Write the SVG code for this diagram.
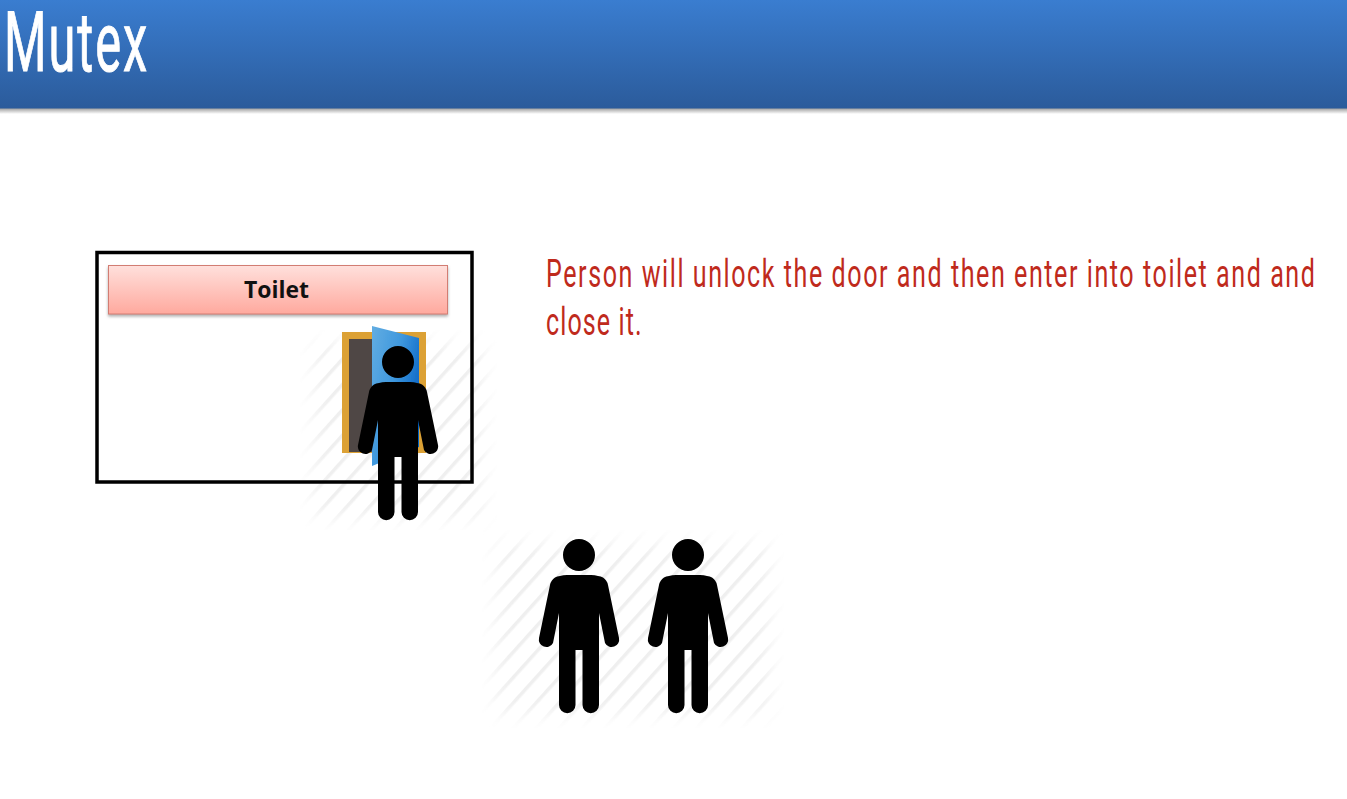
<svg xmlns="http://www.w3.org/2000/svg" width="1347" height="799" viewBox="0 0 1347 799">
<style>
.title{font-family:"Roboto","Liberation Sans",sans-serif;font-weight:400;font-size:84px;fill:#fff;stroke:#fff;stroke-width:1}
.body{font-family:"Roboto","Liberation Sans",sans-serif;font-weight:400;font-size:38px;fill:#bf2a1c}
.label{font-family:"Open Sans","Liberation Sans",sans-serif;font-weight:700;font-size:23px;fill:#111;text-anchor:middle}
.soft{filter:url(#soft)}
</style>
<defs>
<linearGradient id="hdr" x1="0" y1="0" x2="0" y2="1"><stop offset="0" stop-color="#3a7dd0"/><stop offset="1" stop-color="#2b5b9b"/></linearGradient>
<linearGradient id="shade" x1="0" y1="0" x2="0" y2="1"><stop offset="0" stop-color="#9a9a9a"/><stop offset="1" stop-color="#fff"/></linearGradient>
<linearGradient id="bar" x1="0" y1="0" x2="0" y2="1"><stop offset="0" stop-color="#ffe0dc"/><stop offset="1" stop-color="#ffa99e"/></linearGradient>
<linearGradient id="leaf" x1="0" y1="0" x2="1" y2="0.600"><stop offset="0" stop-color="#62ade2"/><stop offset="0.500" stop-color="#3f98de"/><stop offset="1" stop-color="#0662c4"/></linearGradient>
<pattern id="hatch" width="17" height="17" patternUnits="userSpaceOnUse" patternTransform="rotate(-48)"><rect width="17" height="3.500" fill="#efefef"/></pattern>
<filter id="soft" x="-5%" y="-5%" width="110%" height="110%"><feGaussianBlur stdDeviation="0.600"/></filter>
<filter id="fade" x="-10%" y="-10%" width="120%" height="120%"><feGaussianBlur stdDeviation="9"/></filter>
<filter id="drop" x="-5%" y="-20%" width="110%" height="140%"><feDropShadow dx="0" dy="2" stdDeviation="1.500" flood-color="#777" flood-opacity="0.600"/></filter>
<mask id="hatchfade" maskUnits="userSpaceOnUse" x="0" y="0" width="1347" height="799">
<rect x="314" y="344" width="169" height="174" fill="#fff" filter="url(#fade)"/>
<rect x="496" y="544" width="274" height="170" fill="#fff" filter="url(#fade)"/>
</mask>
<path id="person" d="M-24,22.500 Q-20,20.500 -12,20 L12,20 Q20,20.500 24,22.500 Q28,25 29,30 L40,83 A7.500,7.500 0 0 1 26,88 L20,58 L20,150 A8.250,8.250 0 0 1 3.500,150 L3.500,95 L-3.500,95 L-3.500,150 A8.250,8.250 0 0 1 -20,150 L-20,58 L-26,88 A7.500,7.500 0 0 1 -40,83 L-29,30 Q-28,25 -24,22.500 Z M16,0 A16,16 0 1 1 -16,0 A16,16 0 1 1 16,0 Z" fill="#000"/>
</defs>
<rect width="1347" height="799" fill="#fff"/>
<g id="header">
<rect y="108" width="1347" height="6" fill="url(#shade)"/>
<rect width="1347" height="108.500" fill="url(#hdr)"/>
<text class="title" transform="translate(4 71) scale(0.58 1)" textLength="247" lengthAdjust="spacing">Mutex</text>
</g>
<g id="hatches" mask="url(#hatchfade)">
<rect x="300" y="330" width="197" height="200" fill="url(#hatch)"/>
<rect x="482" y="530" width="302" height="198" fill="url(#hatch)"/>
</g>
<g id="room">
<rect x="97" y="252.500" width="375" height="229.500" fill="none" stroke="#000" stroke-width="3.500"/>
</g>
<g id="toilet-sign">
<rect x="108.500" y="265.500" width="339" height="48.500" fill="url(#bar)" stroke="#d27d73" stroke-width="1" filter="url(#drop)"/>
<text class="label" x="276.500" y="298" textLength="65" lengthAdjust="spacingAndGlyphs">Toilet</text>
</g>
<g id="door" class="soft">
<rect x="342" y="332" width="84" height="121" fill="#dca136"/>
<rect x="349" y="339" width="30" height="113" fill="#4f4645"/>
<polygon points="372,326 419,338 419,447 372,466" fill="url(#leaf)"/>
</g>
<g id="person-entering" class="soft"><use href="#person" x="398" y="362"/></g>
<g id="person-waiting-1" class="soft"><use href="#person" x="579" y="555"/></g>
<g id="person-waiting-2" class="soft"><use href="#person" x="688" y="555"/></g>
<g id="caption">
<text class="body" transform="translate(546 287) scale(0.66 1)" textLength="1165" lengthAdjust="spacing">Person will unlock the door and then enter into toilet and and</text>
<text class="body" transform="translate(546 335) scale(0.66 1)" textLength="145" lengthAdjust="spacing">close it.</text>
</g>
<g id="connectors"></g>
</svg>
